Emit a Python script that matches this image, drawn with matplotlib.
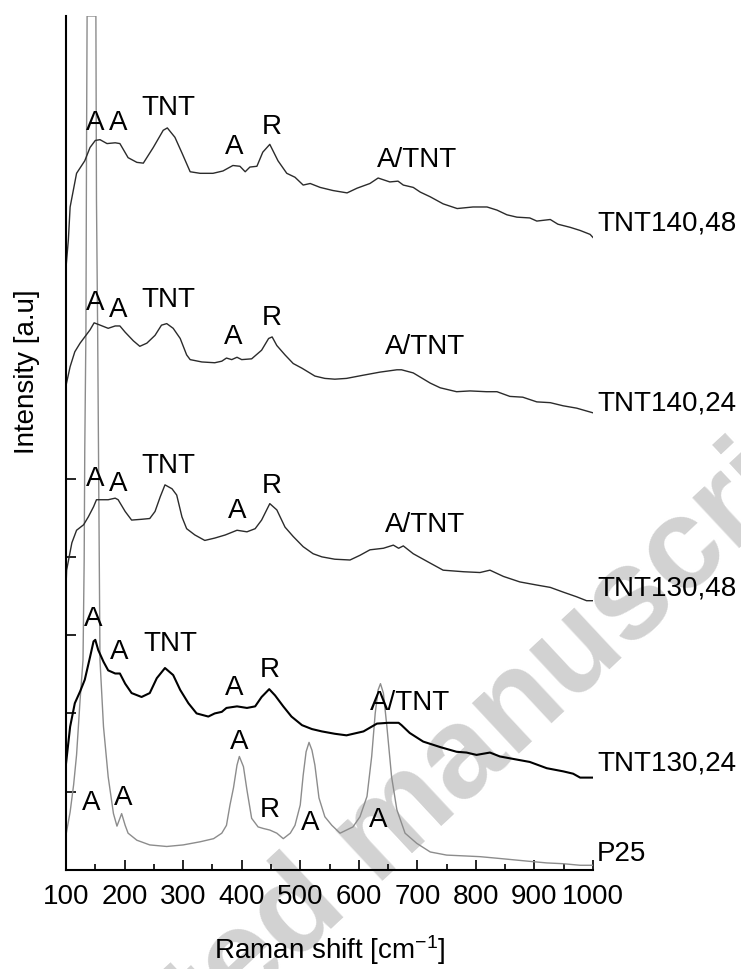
import numpy as np
import matplotlib.pyplot as plt

plt.rcParams['font.family'] = ['Liberation Sans', 'DejaVu Sans']
plt.rcParams['mathtext.fontset'] = 'custom'
plt.rcParams['mathtext.rm'] = 'Liberation Sans'
plt.rcParams['mathtext.it'] = 'Liberation Sans:italic'
plt.rcParams['mathtext.bf'] = 'Liberation Sans:bold'

# TNT140,48 (top spectrum)
shift_140_48 = [100, 104, 107, 118, 132, 141, 150, 158, 170, 184, 192, 206, 221, 232, 249,
                266, 273, 286, 298, 312, 329, 351, 368, 385, 397, 406, 414, 426, 436, 448,
                462, 477, 491, 505, 517, 534, 556, 580, 597, 619, 633, 653, 667, 676, 693,
                705, 722, 744, 768, 795, 819, 836, 853, 870, 892, 904, 927, 940, 961, 978,
                995, 1000]
int_140_48 = [7.70, 8.05, 8.47, 8.90, 9.06, 9.23, 9.32, 9.33, 9.28, 9.29, 9.28, 9.10, 9.04, 9.03, 9.23,
              9.45, 9.48, 9.36, 9.16, 8.92, 8.90, 8.90, 8.93, 9.00, 8.99, 8.92, 8.98, 8.99, 9.17, 9.27,
              9.06, 8.90, 8.85, 8.75, 8.77, 8.72, 8.68, 8.65, 8.71, 8.77, 8.84, 8.79, 8.80, 8.75, 8.72,
              8.66, 8.60, 8.51, 8.45, 8.47, 8.47, 8.43, 8.37, 8.34, 8.33, 8.29, 8.31, 8.25, 8.21, 8.17,
              8.12, 8.08]

# TNT140,24
shift_140_24 = [100, 107, 115, 124, 132, 141, 148, 155, 172, 184, 192, 201, 215, 226, 238,
                252, 263, 272, 283, 295, 306, 312, 332, 354, 366, 374, 383, 392, 400, 417,
                434, 446, 452, 460, 474, 488, 503, 525, 542, 559, 579, 607, 636, 665, 673,
                693, 722, 739, 767, 790, 818, 836, 858, 880, 904, 927, 949, 972, 1000]
int_140_24 = [6.19, 6.43, 6.62, 6.73, 6.81, 6.90, 6.99, 6.97, 6.92, 6.95, 6.95, 6.87, 6.76, 6.69, 6.73,
              6.83, 6.96, 6.98, 6.92, 6.79, 6.58, 6.52, 6.49, 6.48, 6.50, 6.54, 6.52, 6.55, 6.52, 6.53,
              6.64, 6.79, 6.81, 6.70, 6.58, 6.47, 6.41, 6.31, 6.28, 6.27, 6.28, 6.32, 6.36, 6.39, 6.39,
              6.35, 6.22, 6.16, 6.11, 6.12, 6.11, 6.11, 6.05, 6.04, 5.98, 5.97, 5.93, 5.90, 5.84]

# TNT130,48
shift_130_48 = [100, 101, 110, 118, 130, 138, 147, 152, 161, 172, 184, 189, 201, 212, 229,
                243, 252, 261, 269, 281, 289, 298, 306, 320, 337, 354, 372, 392, 409, 423,
                434, 448, 460, 474, 488, 505, 522, 537, 559, 585, 602, 619, 642, 659, 668,
                676, 693, 722, 744, 779, 807, 824, 847, 875, 904, 927, 949, 972, 989, 1000]
int_130_48 = [3.62, 3.83, 4.18, 4.34, 4.41, 4.51, 4.64, 4.73, 4.73, 4.73, 4.75, 4.73, 4.58, 4.47, 4.48,
              4.49, 4.58, 4.77, 4.92, 4.87, 4.79, 4.51, 4.36, 4.28, 4.21, 4.24, 4.28, 4.34, 4.32, 4.36,
              4.47, 4.68, 4.60, 4.38, 4.26, 4.13, 4.04, 4.00, 3.97, 3.96, 4.02, 4.09, 4.11, 4.15, 4.11,
              4.14, 4.04, 3.92, 3.83, 3.81, 3.80, 3.83, 3.75, 3.68, 3.64, 3.61, 3.55, 3.49, 3.44, 3.44]

# TNT130,24
shift_130_24 = [100, 107, 115, 124, 132, 141, 147, 150, 155, 164, 172, 184, 192, 201, 212,
                229, 243, 255, 269, 283, 295, 309, 323, 343, 354, 366, 374, 392, 409, 423,
                434, 447, 457, 471, 485, 503, 520, 537, 559, 579, 608, 631, 650, 668, 673,
                687, 710, 739, 767, 784, 801, 824, 841, 870, 892, 921, 949, 966, 978, 1000]
int_130_24 = [1.36, 1.83, 2.13, 2.28, 2.43, 2.72, 2.92, 2.94, 2.81, 2.66, 2.55, 2.51, 2.51, 2.38, 2.26,
              2.21, 2.26, 2.45, 2.58, 2.49, 2.30, 2.13, 2.00, 1.96, 2.00, 2.02, 2.07, 2.09, 2.07, 2.09,
              2.21, 2.31, 2.23, 2.09, 1.96, 1.85, 1.80, 1.77, 1.74, 1.72, 1.77, 1.87, 1.88, 1.88, 1.85,
              1.75, 1.64, 1.57, 1.51, 1.50, 1.47, 1.50, 1.45, 1.41, 1.38, 1.30, 1.26, 1.23, 1.18, 1.18]

# P25 (reference, grey); main anatase peak runs off the top of the plot
shift_p25 = [100, 107, 113, 118, 124, 129, 131, 132, 134, 135, 136, 151, 152, 154, 158,
             164, 172, 181, 187, 195, 201, 206, 221, 243, 272, 300, 329, 352, 366, 374,
             380, 386, 392, 396, 403, 409, 417, 428, 437, 448, 460, 471, 483, 491, 500,
             505, 510, 515, 520, 525, 532, 542, 554, 568, 579, 590, 602, 614, 622, 628,
             633, 637, 642, 648, 656, 665, 679, 699, 722, 750, 779, 807, 836, 864, 892,
             921, 949, 978, 1000]
int_p25 = [0.45, 0.74, 1.09, 1.47, 2.17, 2.68, 3.96, 5.36, 6.90, 9.20, 10.91, 10.91, 8.56, 6.90, 2.68,
           1.83, 1.19, 0.72, 0.56, 0.72, 0.57, 0.47, 0.38, 0.32, 0.30, 0.32, 0.36, 0.40, 0.47, 0.57,
           0.83, 1.05, 1.34, 1.45, 1.32, 1.02, 0.66, 0.55, 0.53, 0.51, 0.47, 0.40, 0.47, 0.57, 0.83,
           1.21, 1.51, 1.63, 1.53, 1.34, 0.92, 0.68, 0.57, 0.47, 0.51, 0.55, 0.68, 0.94, 1.45, 2.00,
           2.30, 2.38, 2.26, 1.83, 1.19, 0.77, 0.47, 0.34, 0.23, 0.19, 0.18, 0.17, 0.15, 0.13, 0.11,
           0.09, 0.08, 0.06, 0.06]

series_names = ["TNT140,48", "TNT140,24", "TNT130,48", "TNT130,24", "P25"]

# peak assignments per spectrum
peaks_140_48 = [("A", 149.5, 9.54), ("A", 188.8, 9.54), ("TNT", 274, 9.74),
                ("A", 387, 9.23), ("R", 452, 9.49), ("A/TNT", 699, 9.07)]
peaks_140_24 = [("A", 149.5, 7.24), ("A", 189.3, 7.16), ("TNT", 275, 7.28),
                ("A", 386, 6.81), ("R", 452, 7.05), ("A/TNT", 713, 6.68)]
peaks_130_48 = [("A", 149.5, 4.99), ("A", 189.3, 4.93), ("TNT", 275, 5.16),
                ("A", 393, 4.58), ("R", 452, 4.90), ("A/TNT", 713, 4.41)]
peaks_130_24 = [("A", 146.6, 3.21), ("A", 191, 2.78), ("TNT", 279, 2.89),
                ("A", 387, 2.33), ("R", 448, 2.55), ("A/TNT", 687, 2.13)]
peaks_p25 = [("A", 142.7, 0.85), ("A", 197.8, 0.92), ("A", 396, 1.64),
             ("R", 448, 0.76), ("A", 517, 0.60), ("A", 633, 0.64)]

fs = 20

fig = plt.figure(figsize=(7.41, 9.69), dpi=100)
ax = fig.add_axes([0.0891, 0.1022, 0.7112, 0.8813])
ax.set_facecolor('none')

ax.plot(shift_p25, int_p25, color='#8c8c8c', lw=1.0)
ax.plot(shift_140_48, int_140_48, color='#2b2b2b', lw=1.0)
ax.plot(shift_140_24, int_140_24, color='#2b2b2b', lw=1.0)
ax.plot(shift_130_48, int_130_48, color='#2b2b2b', lw=1.0)
ax.plot(shift_130_24, int_130_24, color='black', lw=1.5)

for peaks in [peaks_140_48, peaks_140_24, peaks_130_48, peaks_130_24, peaks_p25]:
    for txt, x, y in peaks:
        ax.text(x, y, txt, fontsize=fs, ha='center', va='center')

name_y = [8.26, 5.96, 3.60, 1.36, 0.21]
for name, y in zip(series_names, name_y):
    ax.text(1007, y, name, fontsize=fs, ha='left', va='center', clip_on=False)

ax.set_xlim(100, 1000)
ax.set_ylim(0, 10.91)
ax.set_xticks(np.arange(100, 1001, 100))
ax.set_xticks(np.arange(150, 1000, 100), minor=True)
ax.set_yticks([1, 2, 3, 4, 5])
ax.set_yticklabels([])
ax.tick_params(axis='both', which='major', direction='in', length=7, width=1.2,
               labelsize=fs, pad=10)
ax.tick_params(axis='x', which='minor', direction='in', length=4, width=1.2)
for s in ['top', 'right']:
    ax.spines[s].set_visible(False)
for s in ['left', 'bottom']:
    ax.spines[s].set_linewidth(1.5)

ax.set_xlabel(r"Raman shift [cm$^{-1}$]", fontsize=fs, labelpad=17)
ax.set_ylabel("Intensity [a.u]", fontsize=fs)
ax.yaxis.set_label_coords(-0.049, 0.583)

# "Accepted manuscript" watermark behind the plot
fig.text(-0.100, -0.349, "Accepted manuscript", rotation=43, rotation_mode='anchor',
         ha='left', va='baseline', fontsize=93, fontweight='bold', color='#d2d2d2', zorder=-1)

fig.savefig("out.png", dpi=100)
